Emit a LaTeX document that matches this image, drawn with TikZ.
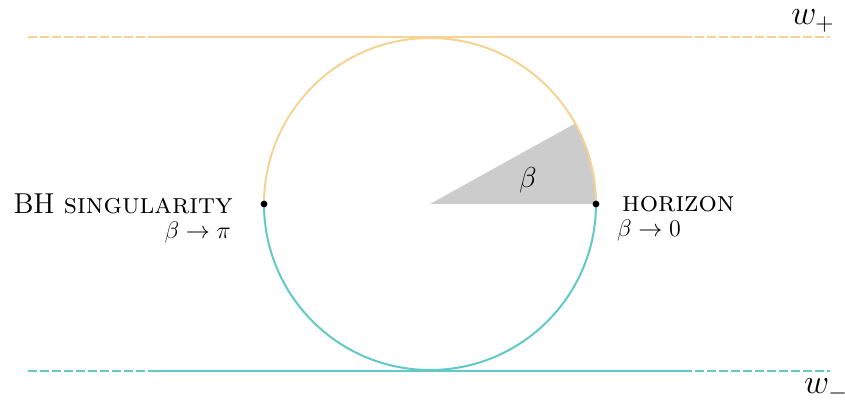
\documentclass[tikz,border=0pt]{standalone}
\usetikzlibrary{positioning}
\definecolor{plusorange}{HTML}{F6D394}
\definecolor{minusteal}{HTML}{62C8C8}
\begin{document}
\begin{tikzpicture}[x=0.5pt, y=0.5pt,
        bound/.style={line width=1.2pt},
        dashbound/.style={bound, dash pattern=on 4.5pt off 1.5pt},
        dot/.style={circle, fill=black, inner sep=0pt, minimum size=3.4pt}]
        \useasboundingbox (-430,-201) rectangle (415,204);

        % Wedge
        \fill[gray!40] (0,0) -- (166,0) arc (0:29:166) -- cycle;
        \node (beta) at (98,24) {\Large$\beta$};

        % Circle
        \draw[plusorange, line width=1pt] (166,0) arc (0:180:166);
        \draw[minusteal, line width=1pt] (-166,0) arc (180:360:166);

        % Boundaries
        \coordinate (topL) at (-402,167);
        \coordinate (topA) at (-280,167);
        \coordinate (topB) at (253,167);
        \coordinate (topR) at (400,167);
        \coordinate (botL) at (-402,-167);
        \coordinate (botA) at (-280,-167);
        \coordinate (botB) at (253,-167);
        \coordinate (botR) at (400,-167);
        \draw[plusorange, dashbound] (topL) -- (topA);
        \draw[plusorange, bound] (topA) -- (topB);
        \draw[plusorange, dashbound] (topB) -- (topR);
        \draw[minusteal, dashbound] (botL) -- (botA);
        \draw[minusteal, bound] (botA) -- (botB);
        \draw[minusteal, dashbound] (botB) -- (botR);
        \node (wplus) at (383,183) {\LARGE$w_+$};
        \node (wminus) at (396,-186) {\LARGE$w_-$};

        % Points
        \node[dot] (sing) at (-166,0) {};
        \node[dot] (hor) at (166,0) {};
        \node[left=11.5pt of sing, inner sep=2pt] (singlab) {\Large BH \textsc{singularity}};
        \node[anchor=north east, inner sep=0pt] (singlim) at ([xshift=-3pt,yshift=-1.5pt]singlab.south east) {\large$\beta\to\pi$};
        \node[right=9pt of hor, inner sep=2pt] (horlab) {\Large\textsc{horizon}};
        \node[anchor=north west, inner sep=0pt] (horlim) at ([xshift=-0.5pt,yshift=-1.5pt]horlab.south west) {\large$\beta\to0$};
    \end{tikzpicture}
\end{document}
